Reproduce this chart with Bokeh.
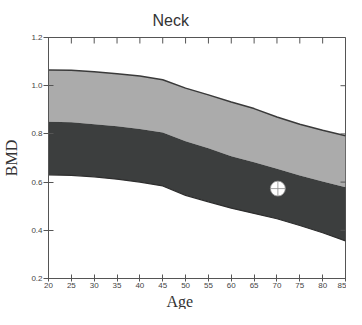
import math
from bokeh.plotting import figure
from bokeh.models import Range1d, LinearAxis, Title, FixedTicker, PrintfTickFormatter, ColumnDataSource
from bokeh.embed import file_html
from bokeh.resources import INLINE

ages = [20, 25, 30, 35, 40, 45, 50, 55, 60, 65, 70, 75, 80, 85]
upper = [1.065, 1.064, 1.058, 1.050, 1.040, 1.025, 0.990, 0.962, 0.932, 0.905, 0.870, 0.840, 0.815, 0.792]
middle = [0.850, 0.848, 0.840, 0.832, 0.820, 0.806, 0.770, 0.740, 0.707, 0.682, 0.655, 0.627, 0.602, 0.579]
lower = [0.630, 0.628, 0.622, 0.612, 0.600, 0.584, 0.545, 0.518, 0.492, 0.470, 0.448, 0.420, 0.390, 0.356]
patient_age = [70.2]
patient_bmd = [0.573]
x_ticks = [20, 25, 30, 35, 40, 45, 50, 55, 60, 65, 70, 75, 80, 85]
y_ticks = [0.2, 0.4, 0.6, 0.8, 1.0, 1.2]
x_min, x_max = 20, 85
y_min, y_max = 0.2, 1.2

src = ColumnDataSource(dict(age=ages, upper=upper, middle=middle, lower=lower))

p = figure(width=346, height=309, output_backend="svg", toolbar_location=None,
           x_range=Range1d(x_min, x_max), y_range=Range1d(y_min, y_max),
           min_border_left=44, min_border_right=1, min_border_top=30, min_border_bottom=28,
           x_axis_location=None, y_axis_location=None)
p.grid.visible = False
p.outline_line_color = "#555555"
p.background_fill_color = "white"
p.border_fill_color = "white"

p.varea(x="age", y1="middle", y2="upper", source=src, fill_color="#ababab")
p.varea(x="age", y1="lower", y2="middle", source=src, fill_color="#3c3e3e")
p.line(x="age", y="upper", source=src, line_color="#3a3a3a", line_width=1.5)
p.line(x="age", y="lower", source=src, line_color="#2e2e2e", line_width=1.2)
p.scatter(x=patient_age, y=patient_bmd, marker="circle_cross", size=15,
          fill_color="white", line_color="#8a8a8a", line_width=0.8)

# inner ticks on the top and right edges
p.scatter(x=x_ticks, y=[y_max] * len(x_ticks), marker="dash", angle=math.pi / 2,
          size=12, line_color="#555555", line_width=1)
p.scatter(x=[x_max] * len(y_ticks), y=y_ticks, marker="dash",
          size=10, line_color="#555555", line_width=1)

def style(ax, ticks, tin, tout):
    ax.ticker = FixedTicker(ticks=ticks)
    ax.axis_line_color = "#555555"
    ax.major_tick_line_color = "#555555"
    ax.minor_tick_line_color = None
    ax.major_tick_in = tin
    ax.major_tick_out = tout
    ax.major_label_standoff = 1
    ax.major_label_text_font = "Liberation Sans"
    ax.major_label_text_font_size = "8px"
    ax.major_label_text_color = "#444444"

bx = LinearAxis()
ly = LinearAxis(axis_label="BMD")
style(bx, x_ticks, 4, 3)
style(ly, y_ticks, 5, 5)
ly.formatter = PrintfTickFormatter(format="%.1f")
ly.axis_label_text_font = "Liberation Serif"
ly.axis_label_text_font_size = "16px"
ly.axis_label_text_font_style = "normal"
ly.axis_label_text_color = "#333333"
ly.axis_label_standoff = 8
p.add_layout(bx, "below")
p.add_layout(ly, "left")

p.add_layout(Title(text="Age", align="left", offset=118, standoff=0,
                   text_font="Liberation Serif", text_font_size="16px",
                   text_font_style="normal", text_color="#333333"), "below")
p.add_layout(Title(text="Neck", align="left", offset=104, standoff=18,
                   text_font="Liberation Sans", text_font_size="16px",
                   text_font_style="normal", text_color="#333333"), "above")

open("out.html", "w").write(file_html(p, INLINE))
